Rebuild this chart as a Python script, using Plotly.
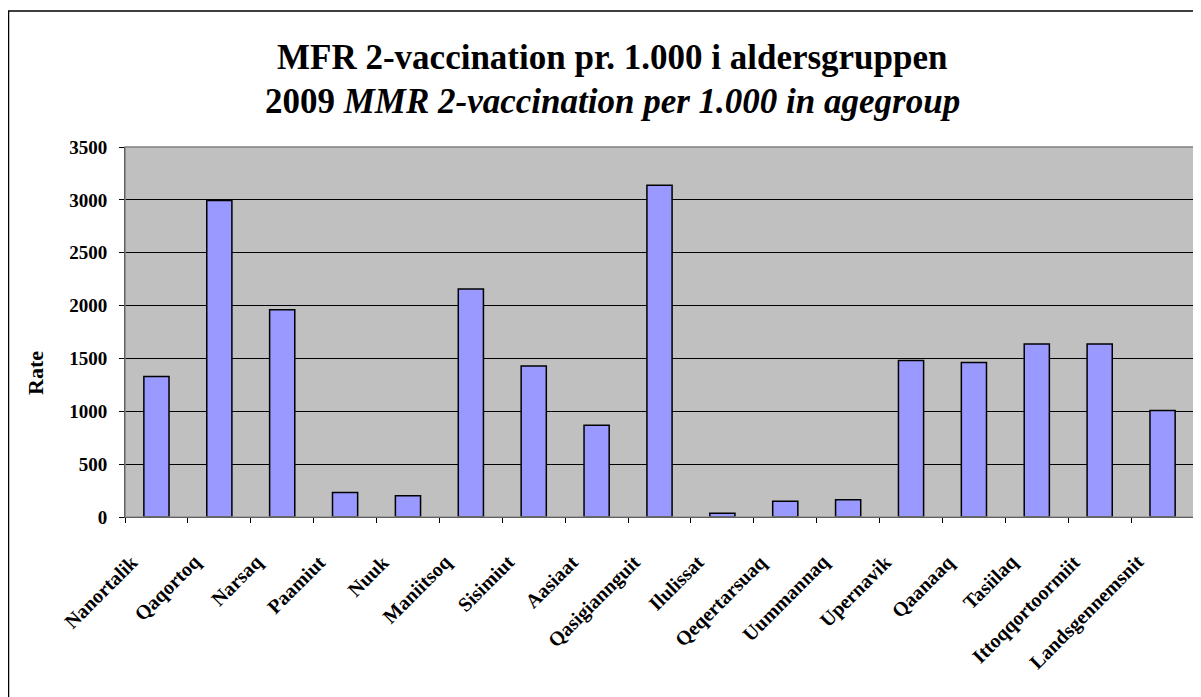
import plotly.graph_objects as go

categories = ["Nanortalik", "Qaqortoq", "Narsaq", "Paamiut", "Nuuk", "Maniitsoq",
              "Sisimiut", "Aasiaat", "Qasigiannguit", "Ilulissat", "Qeqertarsuaq",
              "Uummannaq", "Upernavik", "Qaanaaq", "Tasiilaq", "Ittoqqortoormiit",
              "Landsgennemsnit"]
rates = [1330, 2995, 1960, 232, 200, 2157, 1428, 867, 3137, 35, 148, 164,
         1481, 1462, 1637, 1637, 1008]
y_ticks = [0, 500, 1000, 1500, 2000, 2500, 3000, 3500]

font_family = "Liberation Serif, Times New Roman, serif"

# figure geometry (page is offset by 8px body margin)
W, H = 1193, 689
L, R, T, B = 117, 7, 139, 180
PW, PH = W - L - R, H - T - B


def px(xf):
    return (xf - L) / PW


def py(yf):
    return (H - B - yf) / PH


fig = go.Figure(go.Bar(
    x=categories, y=rates,
    marker=dict(color="#9999FF", line=dict(color="#000000", width=1.5)),
    width=0.4,
))

fig.update_layout(
    width=W, height=H,
    margin=dict(l=L, r=R, t=T, b=B),
    paper_bgcolor="white",
    plot_bgcolor="#C0C0C0",
    showlegend=False,
    font=dict(family=font_family, color="black"),
)

fig.update_xaxes(
    type="category",
    range=[-0.5, len(categories) - 0.5],
    autorange=False,
    showticklabels=False,
    ticks="outside", tickson="boundaries", ticklen=5, tickcolor="#000000",
    showline=True, linecolor="#000000", linewidth=1,
    showgrid=False,
)
fig.update_yaxes(
    range=[0, 3500],
    autorange=False,
    tickvals=y_ticks,
    tickfont=dict(size=19, family=font_family, color="black", weight="bold"),
    ticks="outside", ticklen=5, tickcolor="#000000",
    ticklabelstandoff=8,
    showline=True, linecolor="#000000", linewidth=1,
    showgrid=True, gridcolor="#000000", gridwidth=1,
)

# category labels, rotated
for c in categories:
    fig.add_annotation(x=c, y=0, xref="x", yref="y", text=f"<b>{c}</b>",
                       textangle=-45, showarrow=False,
                       xanchor="right", yanchor="top", xshift=-12, yshift=-31,
                       font=dict(size=20, family=font_family, color="black"))

# plot area border (grey)
fig.add_shape(type="rect", xref="paper", yref="paper", x0=0, y0=0, x1=1, y1=1,
              line=dict(color="#808080", width=1.5), layer="above")
# outer chart border (right/bottom run off the page)
fig.add_shape(type="rect", xref="paper", yref="paper",
              x0=px(0.5), y0=py(3), x1=px(W + 20), y1=py(H + 20),
              line=dict(color="#000000", width=1.5), layer="above")

fig.add_annotation(xref="paper", yref="paper", x=px(27), y=py(365),
                   text="<b>Rate</b>", textangle=-90, showarrow=False,
                   xanchor="center", yanchor="middle",
                   font=dict(size=22, family=font_family, color="black"))

title_x = px(604)
fig.add_annotation(xref="paper", yref="paper", x=title_x, y=py(49),
                   text="<b>MFR 2-vaccination pr. 1.000 i aldersgruppen</b>",
                   showarrow=False, xanchor="center", yanchor="middle",
                   font=dict(size=35, family=font_family, color="black"))
fig.add_annotation(xref="paper", yref="paper", x=title_x, y=py(94),
                   text="<b>2009 <i>MMR 2-vaccination per 1.000 in agegroup</i></b>",
                   showarrow=False, xanchor="center", yanchor="middle",
                   font=dict(size=35, family=font_family, color="black"))

fig.write_html("out.html")
